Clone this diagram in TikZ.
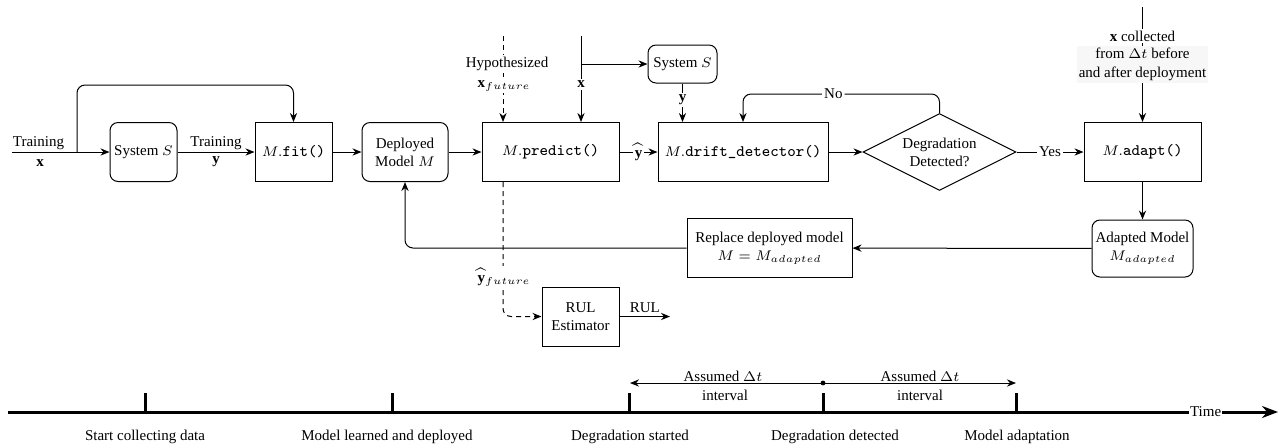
\documentclass[tikz,border=0pt]{standalone}
\usepackage{fontspec}
\setmainfont{Liberation Serif}
\usetikzlibrary{arrows.meta,shapes.geometric,calc}
\newcommand{\code}[1]{{\fontsize{8}{9}\selectfont\ttfamily #1}}
\begin{document}
\begin{tikzpicture}[x=0.5pt,y=-0.5pt,
  every node/.style={font=\fontsize{7.5}{9}\selectfont},
  line width=0.5pt,
  arr/.style={-{Stealth[length=4.5pt,width=3.6pt]}},
  dsh/.style={dash pattern=on 2.5pt off 2pt},
  box/.style={draw, minimum width=#1, minimum height=29.5pt, inner sep=1pt, align=center},
  rbox/.style={box=#1, rounded corners=4pt},
  lbl/.style={fill=white, inner sep=1pt},
  tl/.style={line width=1.5pt},
  tlab/.style={anchor=base, inner sep=0pt}
]
\useasboundingbox (0,0) rectangle (1280,447);

% ---------- nodes ----------
\node[rbox=33.5pt] (sysS) at (143.5,152) {System $S$};
\node[box=38.5pt] (fit) at (293.5,152) {$M.$\code{fit()}};
\node[rbox=43pt] (dep) at (405,152) {Deployed\\Model $M$};
\node[box=68.5pt] (pred) at (550.5,152) {$M.$\code{predict()}};
\node[box=85pt] (drift) at (743,152) {$M.$\code{drift\_detector()}};
\node[diamond, draw, aspect=2, minimum width=76.5pt, minimum height=38.5pt, inner sep=0pt, align=center] (diam) at (939.5,152) {Degradation\\Detected?};
\node[box=58.5pt] (adapt) at (1142.5,152) {$M.$\code{adapt()}};
\node[rbox=50.5pt, minimum height=28.5pt] (adm) at (1142.5,248.5) {Adapted Model\\$M_{adapted}$};
\node[box=82.5pt] (repl) at (769.5,248) {Replace deployed model\\$M=M_{adapted}$};
\node[box=38.5pt] (rul) at (580.5,316.5) {RUL\\Estimator};
\node[rbox=34.5pt, minimum height=19pt] (sys2) at (682.5,64) {System $S$};

% ---------- coordinates ----------
\coordinate (xin0) at (12,152);
\coordinate (b1) at (77,152);
\coordinate (lv) at (0,85);
\coordinate (nolev) at (0,94);
\coordinate (xin) at (581,36);
\coordinate (hin) at (503,36);
\coordinate (ain) at (1142.5,7);
\coordinate (rulout) at (670,317);

% ---------- connectors ----------
\draw[arr] (xin0) -- (sysS.west);
\node (lt1) at (38.5,143) {Training};
\node (lx1) at (40,163) {$\mathbf{x}$};
\draw[arr, rounded corners=4pt] (b1) -- (b1 |- lv) -- (fit.north |- lv) -- (fit.north);

\draw[arr] (sysS.east) -- (fit.west);
\node (lt2) at (216,143) {Training};
\node (ly2) at (216,162) {$\mathbf{y}$};

\draw[arr] (fit) -- (dep);
\draw[arr] (dep) -- (pred);
\draw[arr] (pred) -- node[lbl]{$\widehat{\mathbf{y}}$} (drift);
\draw[arr] (drift) -- (diam);
\draw[arr] (diam) -- node[lbl]{Yes} (adapt);
\draw[arr, rounded corners=4pt] (diam.north) -- (diam.north |- nolev) -- node[lbl, pos=0.54]{No} (drift.north |- nolev) -- (drift.north);

\draw[arr] (xin) -- node[lbl, pos=0.56]{$\mathbf{x}$} (xin |- pred.north);
\draw[arr] (xin |- sys2.west) -- (sys2.west);
\draw[arr] (sys2.south) -- node[lbl, pos=0.43]{$\mathbf{y}$} (sys2.south |- drift.north);

\draw[arr, dsh] (hin) -- (hin |- pred.north);
\node[lbl] (hyp) at (507,64) {Hypothesized};
\node[lbl] (xf) at (504,86) {$\mathbf{x}_{future}$};
\draw[arr, dsh, rounded corners=4pt] (hin |- pred.south) |- (rul.west);
\node[lbl] (yf) at (504,277) {$\widehat{\mathbf{y}}_{future}$};
\draw[arr] (rul.east) -- node[above, inner sep=1.5pt]{RUL} (rul.east -| rulout);

\draw[arr] (ain) -- (adapt.north);
\node[fill=gray!6, inner sep=1pt, align=center, font=\fontsize{7.5}{9.5}\selectfont] (xc2) at (1142.5,64.5) {from $\Delta t$ before\\and after deployment};
\node[lbl] (xc1) at (1142.5,36) {$\mathbf{x}$ collected};

\draw[arr] (adapt) -- (adm);
\draw[arr] (adm) -- (repl);
\draw[arr, rounded corners=4pt] (repl.west) -| (dep.south);

% ---------- timeline ----------
\coordinate (t0) at (8,412);
\coordinate (t1) at (1278,412);
\draw[tl, -{Stealth[length=8pt,width=6pt]}] (t0) -- node[pos=0.943, fill=white, inner sep=0.5pt]{Time} (t1);
\coordinate (k1) at (145,412);
\coordinate (k2) at (392,412);
\coordinate (k3) at (629,412);
\coordinate (k4) at (823,412);
\coordinate (k5) at (1016,412);
\foreach \k in {k1,k2,k3,k4,k5} {\draw[tl] (\k) -- ++(0,-19);}
\node[tlab] (s1) at (145,440) {Start collecting data};
\node[tlab] (s2) at (387,440) {Model learned and deployed};
\node[tlab] (s3) at (630,440) {Degradation started};
\node[tlab] (s4) at (835,440) {Degradation detected};
\node[tlab] (s5) at (1017,440) {Model adaptation};

\coordinate (dd) at (823,383);
\coordinate (dl) at (630,383);
\coordinate (dr) at (1016,383);
\fill (dd) circle (1.2pt);
\draw[arr] (dd) -- (dl);
\draw[arr] (dd) -- (dr);
\node[tlab] (a1) at (723,381) {Assumed $\Delta t$};
\node[tlab] (i1) at (725,400) {interval};
\node[tlab] (a2) at (920,381) {Assumed $\Delta t$};
\node[tlab] (i2) at (920,400) {interval};
\end{tikzpicture}
\end{document}
